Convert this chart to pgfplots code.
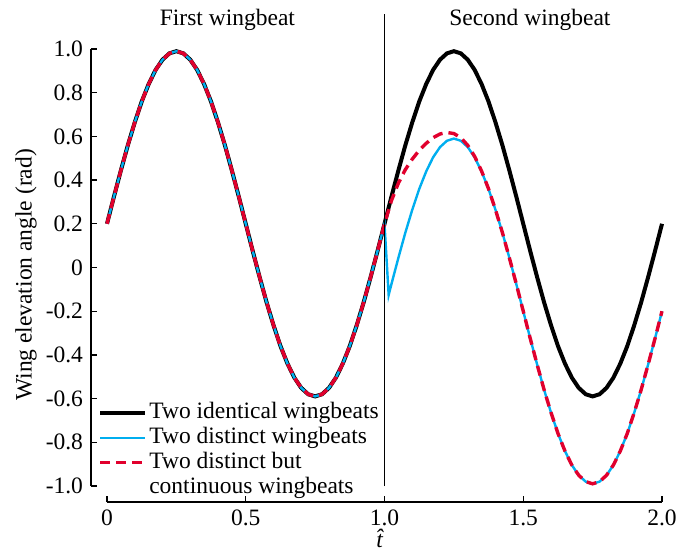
\documentclass[border=0pt]{standalone}
\usepackage{fontspec}
\setmainfont{Liberation Serif}
\usepackage{pgfplots}
\pgfplotsset{compat=1.18}
\usepackage{pgfplotstable}
\definecolor{cblue}{RGB}{0,174,239}
\definecolor{cred}{RGB}{225,0,45}

\pgfplotstableread{
t y
0 0.200
0.025 0.324
0.05 0.444
0.075 0.559
0.1 0.664
0.125 0.759
0.15 0.839
0.175 0.904
0.2 0.951
0.225 0.980
0.25 0.990
0.275 0.980
0.3 0.951
0.325 0.904
0.35 0.839
0.375 0.759
0.4 0.664
0.425 0.559
0.45 0.444
0.475 0.324
0.5 0.200
0.525 0.076
0.55 -0.044
0.575 -0.159
0.6 -0.264
0.625 -0.359
0.65 -0.439
0.675 -0.504
0.7 -0.551
0.725 -0.580
0.75 -0.590
0.775 -0.580
0.8 -0.551
0.825 -0.504
0.85 -0.439
0.875 -0.359
0.9 -0.264
0.925 -0.159
0.95 -0.044
0.975 0.076
1.0 0.200
1.025 0.324
1.05 0.444
1.075 0.559
1.1 0.664
1.125 0.759
1.15 0.839
1.175 0.904
1.2 0.951
1.225 0.980
1.25 0.990
1.275 0.980
1.3 0.951
1.325 0.904
1.35 0.839
1.375 0.759
1.4 0.664
1.425 0.559
1.45 0.444
1.475 0.324
1.5 0.200
1.525 0.076
1.55 -0.044
1.575 -0.159
1.6 -0.264
1.625 -0.359
1.65 -0.439
1.675 -0.504
1.7 -0.551
1.725 -0.580
1.75 -0.590
1.775 -0.580
1.8 -0.551
1.825 -0.504
1.85 -0.439
1.875 -0.359
1.9 -0.264
1.925 -0.159
1.95 -0.044
1.975 0.076
2.0 0.200
}\identical

\pgfplotstableread{
t y
0 0.200
0.025 0.324
0.05 0.444
0.075 0.559
0.1 0.664
0.125 0.759
0.15 0.839
0.175 0.904
0.2 0.951
0.225 0.980
0.25 0.990
0.275 0.980
0.3 0.951
0.325 0.904
0.35 0.839
0.375 0.759
0.4 0.664
0.425 0.559
0.45 0.444
0.475 0.324
0.5 0.200
0.525 0.076
0.55 -0.044
0.575 -0.159
0.6 -0.264
0.625 -0.359
0.65 -0.439
0.675 -0.504
0.7 -0.551
0.725 -0.580
0.75 -0.590
0.775 -0.580
0.8 -0.551
0.825 -0.504
0.85 -0.439
0.875 -0.359
0.9 -0.264
0.925 -0.159
0.95 -0.044
0.975 0.076
1.0 0.200
1.015 -0.126
1.025 -0.076
1.05 0.044
1.075 0.159
1.1 0.264
1.125 0.359
1.15 0.439
1.175 0.504
1.2 0.551
1.225 0.580
1.25 0.590
1.275 0.580
1.3 0.551
1.325 0.504
1.35 0.439
1.375 0.359
1.4 0.264
1.425 0.159
1.45 0.044
1.475 -0.076
1.5 -0.200
1.525 -0.324
1.55 -0.444
1.575 -0.559
1.6 -0.664
1.625 -0.759
1.65 -0.839
1.675 -0.904
1.7 -0.951
1.725 -0.980
1.75 -0.990
1.775 -0.980
1.8 -0.951
1.825 -0.904
1.85 -0.839
1.875 -0.759
1.9 -0.664
1.925 -0.559
1.95 -0.444
1.975 -0.324
2.0 -0.200
}\distinct

\pgfplotstableread{
t y
0 0.200
0.025 0.324
0.05 0.444
0.075 0.559
0.1 0.664
0.125 0.759
0.15 0.839
0.175 0.904
0.2 0.951
0.225 0.980
0.25 0.990
0.275 0.980
0.3 0.951
0.325 0.904
0.35 0.839
0.375 0.759
0.4 0.664
0.425 0.559
0.45 0.444
0.475 0.324
0.5 0.200
0.525 0.076
0.55 -0.044
0.575 -0.159
0.6 -0.264
0.625 -0.359
0.65 -0.439
0.675 -0.504
0.7 -0.551
0.725 -0.580
0.75 -0.590
0.775 -0.580
0.8 -0.551
0.825 -0.504
0.85 -0.439
0.875 -0.359
0.9 -0.264
0.925 -0.159
0.95 -0.044
0.975 0.076
1.0 0.200
1.025 0.306
1.05 0.386
1.075 0.448
1.1 0.496
1.125 0.536
1.15 0.568
1.175 0.594
1.2 0.611
1.225 0.618
1.25 0.613
1.275 0.594
1.3 0.559
1.325 0.508
1.35 0.441
1.375 0.360
1.4 0.264
1.425 0.159
1.45 0.044
1.475 -0.076
1.5 -0.200
1.525 -0.324
1.55 -0.444
1.575 -0.559
1.6 -0.664
1.625 -0.759
1.65 -0.839
1.675 -0.904
1.7 -0.951
1.725 -0.980
1.75 -0.990
1.775 -0.980
1.8 -0.951
1.825 -0.904
1.85 -0.839
1.875 -0.759
1.9 -0.664
1.925 -0.559
1.95 -0.444
1.975 -0.324
2.0 -0.200
}\continuous

\begin{document}
\fontsize{23.5}{25.5}\selectfont
\begin{tikzpicture}
\useasboundingbox (-107pt,-66pt) rectangle (586pt,486pt);
\begin{axis}[
  scale only axis,
  width=555pt, height=437pt,
  xmin=0, xmax=2, ymin=-1, ymax=1,
  clip=false,
  axis x line=bottom, axis y line=left,
  axis x line shift=16pt, axis y line shift=16pt,
  axis line style={-, line width=1.4pt},
  tick style={line width=1.4pt, black},
  tick align=inside,
  major tick length=6pt,
  xtick={0,0.5,1,1.5,2},
  xticklabels={0,0.5,1.0,1.5,2.0},
  ytick={-1,-0.8,-0.6,-0.4,-0.2,0,0.2,0.4,0.6,0.8,1},
  yticklabels={-1.0,-0.8,-0.6,-0.4,-0.2,0,0.2,0.4,0.6,0.8,1.0},
  minor tick num=0,
  xlabel={\textit{\^{t}}},
  ylabel={Wing elevation angle (rad)},
  xlabel style={at={(axis description cs:0.499,-0.12)}, anchor=center},
  ylabel style={at={(axis description cs:-0.146,0.483)}, anchor=center},
  legend style={at={(axis description cs:-0.016,0.192)}, anchor=north west,
    draw=none, fill=none, inner sep=0pt, column sep=2pt, row sep=4pt,
    cells={anchor=west},
    nodes={inner sep=0pt, text height=16pt, text depth=5pt}},
  legend image code/.code={\draw[#1] (0pt,0pt) -- (45pt,0pt);},
]
\addplot[black, line width=4pt] table[x=t,y=y] {\identical};
\addlegendentry{Two identical wingbeats}
\addplot[cblue, line width=2.4pt] table[x=t,y=y] {\distinct};
\addlegendentry{Two distinct wingbeats}
\addplot[cred, line width=3.4pt, dash pattern=on 10pt off 6pt] table[x=t,y=y] {\continuous};
\addlegendentry{\begin{tabular}[t]{@{}l@{}}Two distinct but\\continuous wingbeats\end{tabular}}
\addplot[black, line width=1.2pt, forget plot] coordinates {(1,-1) (1,1.16)};
\node[anchor=base] at (axis cs:0.434,1.1075) {First wingbeat};
\node[anchor=base] at (axis cs:1.524,1.1075) {Second wingbeat};
\end{axis}
\end{tikzpicture}
\end{document}
